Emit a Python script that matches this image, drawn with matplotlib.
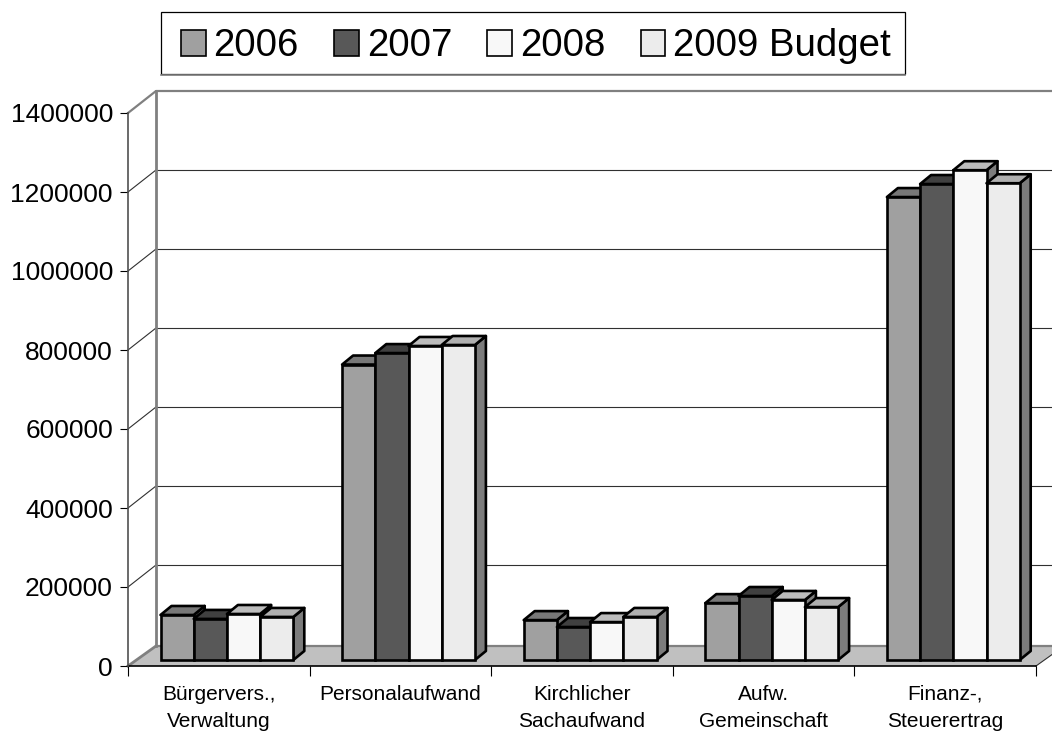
import matplotlib
matplotlib.use("Agg")
import matplotlib.pyplot as plt
from matplotlib.patches import Polygon, Patch, Rectangle
from matplotlib.lines import Line2D

plt.rcParams['font.family'] = ['Liberation Sans', 'DejaVu Sans']

categories = ["Bürgervers.,\nVerwaltung", "Personalaufwand", "Kirchlicher\nSachaufwand",
              "Aufw.\nGemeinschaft", "Finanz-,\nSteuerertrag"]
series_names = ["2006", "2007", "2008", "2009 Budget"]
values_2006 = [114000, 748000, 101000, 144000, 1172000]
values_2007 = [104000, 777000, 83500, 162000, 1205000]
values_2008 = [116500, 795000, 96000, 152000, 1240000]
values_2009 = [109000, 797500, 109000, 134000, 1207000]
y_ticks = [0, 200000, 400000, 600000, 800000, 1000000, 1200000, 1400000]

front_colors = ["#a0a0a0", "#585858", "#f8f8f8", "#ececec"]
top_colors = ["#787878", "#404040", "#bcbcbc", "#b0b0b0"]
side_colors = ["#787878", "#404040", "#7c7c7c", "#7c7c7c"]

W, H = 1052, 731
fig = plt.figure(figsize=(W / 100, H / 100), dpi=100)
ax = fig.add_axes([128 / W, 1 - 666 / H, 908 / W, 553 / H])
ax.set_xlim(0, 5)
ax.set_ylim(0, 1400000)

# pixel sizes expressed in data units
px_x = 5 / 908
px_y = 1400000 / 553
wall_dx, floor_dy, grid_dy = 28 * px_x, 20 * px_y, 22 * px_y
bar_dx, bar_dy = 11 * px_x, 9 * px_y
bar_base = 6 * px_y
bar_w = 33.2 * px_x
bar_start = 32.5 * px_x

# floor and walls
ax.add_patch(Polygon([(0, 0), (wall_dx, floor_dy), (5 + wall_dx, floor_dy), (5, 0)],
                     closed=True, facecolor="#c0c0c0", edgecolor="none",
                     clip_on=False, zorder=1))
ax.plot([wall_dx, 5 + wall_dx], [floor_dy, floor_dy], color="#808080", lw=1.6,
        clip_on=False, zorder=1.5)
ax.plot([0, wall_dx], [0, floor_dy], color="#808080", lw=2, clip_on=False, zorder=1.5)
ax.plot([5, 5 + wall_dx], [0, floor_dy], color="#303030", lw=0.8, clip_on=False, zorder=1.5)

# gridlines run over the side wall and the back wall
for v in y_ticks[1:-1]:
    ax.plot([0, wall_dx], [v, v + grid_dy], color="#303030", lw=0.8,
            clip_on=False, zorder=1.5)
    ax.plot([wall_dx, 5 + wall_dx], [v + grid_dy, v + grid_dy], color="#303030", lw=0.8,
            clip_on=False, zorder=1.5)
top = y_ticks[-1]
ax.plot([0, wall_dx, 5 + wall_dx], [top, top + grid_dy, top + grid_dy],
        color="#808080", lw=1.6, clip_on=False, zorder=1.5)
ax.plot([wall_dx, wall_dx], [floor_dy, top + grid_dy], color="#808080", lw=2,
        clip_on=False, zorder=1.5)

# bars, left to right so each one covers the side of the one before
all_values = [values_2006, values_2007, values_2008, values_2009]
z = 2
for c in range(len(categories)):
    for s, vals in enumerate(all_values):
        x0 = c + bar_start + s * bar_w
        x1 = x0 + bar_w
        y0 = bar_base
        y1 = bar_base + vals[c]
        ax.add_patch(Polygon([(x1, y0), (x1 + bar_dx, y0 + bar_dy),
                              (x1 + bar_dx, y1 + bar_dy), (x1, y1)],
                             closed=True, facecolor=side_colors[s], edgecolor="black",
                             lw=1.9, joinstyle="round", zorder=z, clip_on=False))
        ax.add_patch(Polygon([(x0, y1), (x0 + bar_dx, y1 + bar_dy),
                              (x1 + bar_dx, y1 + bar_dy), (x1, y1)],
                             closed=True, facecolor=top_colors[s], edgecolor="black",
                             lw=1.9, joinstyle="round", zorder=z, clip_on=False))
        ax.bar(x0, vals[c], width=bar_w, bottom=bar_base, align="edge",
               color=front_colors[s], edgecolor="black", lw=1.9, zorder=z, clip_on=False)
        z += 1

ax.spines["top"].set_visible(False)
ax.spines["right"].set_visible(False)
ax.spines["left"].set_color("#505050")
ax.spines["left"].set_linewidth(1.2)
ax.spines["bottom"].set_linewidth(1.2)
ax.spines["bottom"].set_zorder(1.6)

ax.set_yticks(y_ticks)
ax.set_yticklabels([str(v) for v in y_ticks], fontsize=19)
ax.tick_params(axis="y", length=5.8, width=0.8, pad=5)
ax.set_xticks(range(6))
ax.set_xticklabels([])
ax.tick_params(axis="x", which="major", length=7.5, width=0.8)
ax.set_xticks([i + 0.5 for i in range(5)], minor=True)
ax.set_xticklabels(categories, minor=True, fontsize=15, linespacing=1.55)
ax.tick_params(axis="x", which="minor", length=0, pad=13.5)

# legend box is drawn separately, its size does not follow the legend padding
fig.add_artist(Rectangle((161 / W, 1 - 74 / H), 744 / W, 62 / H, transform=fig.transFigure,
                         facecolor="white", edgecolor="black", lw=0.9))
fig.add_artist(Line2D([161 / W, 905 / W], [1 - 74.5 / H, 1 - 74.5 / H],
                      transform=fig.transFigure, color="#808080", lw=1.2))
handles = [Patch(facecolor=front_colors[i], edgecolor="black", lw=1.2) for i in range(4)]
leg = fig.legend(handles, series_names, ncol=4, fontsize=27.6,
                 loc="upper left", bbox_to_anchor=(181 / W, 1 - 28.5 / H),
                 borderaxespad=0, frameon=False,
                 handlelength=0.65, handleheight=0.65, handletextpad=0.2,
                 columnspacing=0.92, borderpad=0)

fig.savefig("out.png", dpi=100)
